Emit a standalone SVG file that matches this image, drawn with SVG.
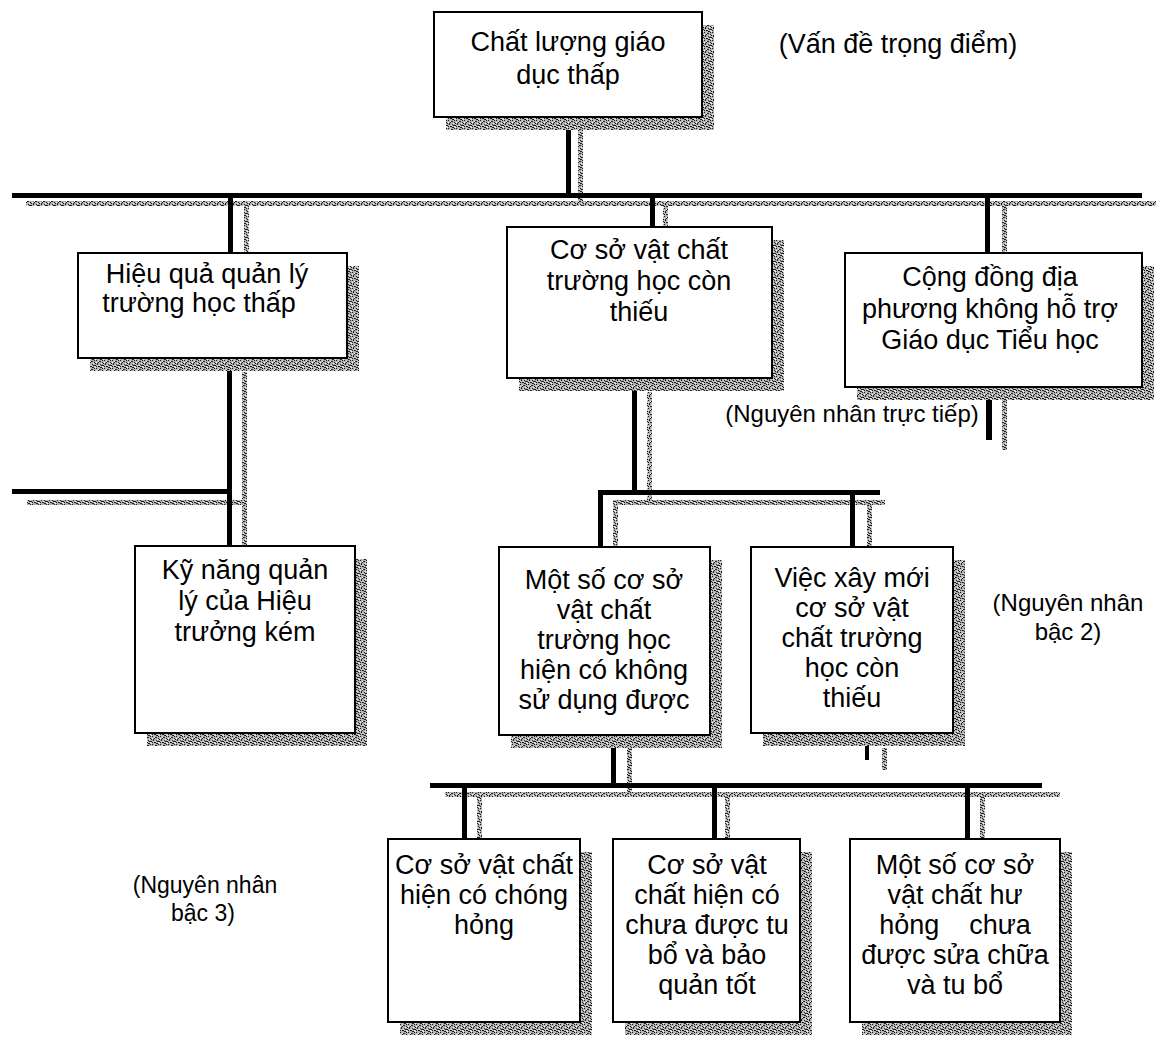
<svg xmlns="http://www.w3.org/2000/svg" width="1165" height="1040" viewBox="0 0 1165 1040">
  <style>
    .box { fill: #ffffff; stroke: #000000; stroke-width: 2; }
    .shade { fill: url(#grain); }
    .line { fill: #000000; }
    .gline { fill: url(#grain); }
    text { font-family: "Liberation Sans", Arial, sans-serif; fill: #000000; }
    .t { font-size: 27px; text-anchor: middle; }
    .note { font-size: 24px; text-anchor: middle; }
  </style>
  <defs>
    <!-- speckled grey used for the drop shadows and the shadow lines -->
    <pattern id="grain" width="8" height="8" patternUnits="userSpaceOnUse">
      <rect width="8" height="8" fill="#b4b4b4"/>
      <path d="M0 0h1v1H0zM3 1h2v1H3zM6 2h1v1H6zM1 3h1v2H1zM4 4h1v1H4zM7 5h1v1H7zM2 6h2v1H2zM5 7h1v1H5zM6 0h1v1H6zM0 6h1v1H0zM2 2h1v1H2zM5 5h2v1H5zM7 3h1v1H7zM4 7h1v1H4z" fill="#1e1e1e"/>
      <path d="M2 1h1v1H2zM5 3h1v1H5zM3 5h1v1H3zM7 7h1v1H7zM0 2h1v1H0zM6 6h1v1H6z" fill="#f2f2f2"/>
    </pattern>
  </defs>

  <rect width="1165" height="1040" fill="#ffffff"/>

  <!-- connectors: black rule with a speckled shadow rule beside it -->
  <g id="connectors">
    <!-- top stem and main bar -->
    <rect class="gline" x="578" y="130" width="5" height="72"/>
    <rect class="line" x="566" y="117" width="5" height="78"/>
    <rect class="gline" x="26" y="201" width="1130" height="5"/>
    <rect class="line" x="12" y="193" width="1130" height="5"/>
    <!-- drops to the direct causes -->
    <rect class="gline" x="244" y="205" width="5" height="48"/>
    <rect class="line" x="228" y="198" width="5" height="55"/>
    <rect class="gline" x="663" y="205" width="5" height="22"/>
    <rect class="line" x="650" y="198" width="5" height="29"/>
    <rect class="gline" x="1002" y="205" width="5" height="48"/>
    <rect class="line" x="985" y="198" width="5" height="55"/>
    <!-- stub under the community box -->
    <rect class="gline" x="1002" y="397" width="5" height="53"/>
    <rect class="line" x="986" y="387" width="6" height="53"/>
    <!-- left branch -->
    <rect class="gline" x="27" y="500" width="220" height="5"/>
    <rect class="line" x="12" y="489" width="216" height="5"/>
    <rect class="gline" x="242" y="372" width="5" height="175"/>
    <rect class="line" x="227" y="358" width="5" height="189"/>
    <!-- middle branch, second level -->
    <rect class="gline" x="647" y="392" width="5" height="108"/>
    <rect class="line" x="632" y="378" width="5" height="112"/>
    <rect class="gline" x="613" y="500" width="272" height="5"/>
    <rect class="line" x="598" y="490" width="282" height="5"/>
    <rect class="gline" x="613" y="500" width="5" height="47"/>
    <rect class="line" x="598" y="490" width="5" height="57"/>
    <rect class="gline" x="867" y="500" width="5" height="47"/>
    <rect class="line" x="850" y="490" width="5" height="57"/>
    <!-- stub under the new-build box -->
    <rect class="gline" x="882" y="748" width="5" height="22"/>
    <rect class="line" x="865" y="733" width="4" height="27"/>
    <!-- third level -->
    <rect class="gline" x="627" y="748" width="5" height="48"/>
    <rect class="line" x="611" y="735" width="5" height="50"/>
    <rect class="gline" x="445" y="792" width="615" height="5"/>
    <rect class="line" x="430" y="783" width="612" height="5"/>
    <rect class="gline" x="477" y="796" width="5" height="43"/>
    <rect class="line" x="462" y="785" width="5" height="54"/>
    <rect class="gline" x="725" y="796" width="5" height="43"/>
    <rect class="line" x="712" y="785" width="5" height="54"/>
    <rect class="gline" x="980" y="796" width="5" height="43"/>
    <rect class="line" x="965" y="785" width="5" height="54"/>
  </g>

  <g id="core-problem">
    <rect class="shade" x="446" y="25" width="268" height="105"/>
    <rect class="box" x="434" y="12" width="268" height="105"/>
    <text class="t" x="568" y="51">Chất lượng giáo</text>
    <text class="t" x="568" y="84">dục thấp</text>
  </g>

  <g id="label-core">
    <text class="note" x="898" y="53" style="font-size:27px">(Vấn đề trọng điểm)</text>
  </g>

  <g id="management">
    <rect class="shade" x="90" y="266" width="269" height="105"/>
    <rect class="box" x="78" y="253" width="269" height="105"/>
    <text class="t" x="207" y="283">Hiệu quả quản lý</text>
    <text class="t" x="199" y="312">trường học thấp</text>
  </g>

  <g id="facilities">
    <rect class="shade" x="519" y="240" width="265" height="151"/>
    <rect class="box" x="507" y="227" width="265" height="151"/>
    <text class="t" x="639" y="259">Cơ sở vật chất</text>
    <text class="t" x="639" y="290">trường học còn</text>
    <text class="t" x="639" y="321">thiếu</text>
  </g>

  <g id="community">
    <rect class="shade" x="857" y="266" width="297" height="134"/>
    <rect class="box" x="845" y="253" width="297" height="134"/>
    <text class="t" x="990" y="286">Cộng đồng địa</text>
    <text class="t" x="990" y="318">phương không hỗ trợ</text>
    <text class="t" x="990" y="349">Giáo dục Tiểu học</text>
  </g>

  <g id="label-direct">
    <text class="note" x="852" y="422">(Nguyên nhân trực tiếp)</text>
  </g>

  <g id="principal-skills">
    <rect class="shade" x="147" y="559" width="220" height="187"/>
    <rect class="box" x="135" y="546" width="220" height="187"/>
    <text class="t" x="245" y="579">Kỹ năng quản</text>
    <text class="t" x="245" y="610">lý của Hiệu</text>
    <text class="t" x="245" y="641">trưởng kém</text>
  </g>

  <g id="unusable">
    <rect class="shade" x="511" y="560" width="211" height="188"/>
    <rect class="box" x="499" y="547" width="211" height="188"/>
    <text class="t" x="604" y="589">Một số cơ sở</text>
    <text class="t" x="604" y="619">vật chất</text>
    <text class="t" x="604" y="649">trường học</text>
    <text class="t" x="604" y="679">hiện có không</text>
    <text class="t" x="604" y="709">sử dụng được</text>
  </g>

  <g id="new-build">
    <rect class="shade" x="763" y="560" width="202" height="186"/>
    <rect class="box" x="751" y="547" width="202" height="186"/>
    <text class="t" x="852" y="587">Việc xây mới</text>
    <text class="t" x="852" y="617">cơ sở vật</text>
    <text class="t" x="852" y="647">chất trường</text>
    <text class="t" x="852" y="677">học còn</text>
    <text class="t" x="852" y="707">thiếu</text>
  </g>

  <g id="label-level2">
    <text class="note" x="1068" y="611">(Nguyên nhân</text>
    <text class="note" x="1068" y="640">bậc 2)</text>
  </g>

  <g id="label-level3">
    <text class="note" x="205" y="893" style="font-size:23px">(Nguyên nhân</text>
    <text class="note" x="203" y="921" style="font-size:23px">bậc 3)</text>
  </g>

  <g id="quick-damage">
    <rect class="shade" x="400" y="852" width="192" height="183"/>
    <rect class="box" x="388" y="839" width="192" height="183"/>
    <text class="t" x="484" y="874">Cơ sở vật chất</text>
    <text class="t" x="484" y="904">hiện có chóng</text>
    <text class="t" x="484" y="934">hỏng</text>
  </g>

  <g id="no-maintenance">
    <rect class="shade" x="625" y="852" width="187" height="183"/>
    <rect class="box" x="613" y="839" width="187" height="183"/>
    <text class="t" x="707" y="874">Cơ sở vật</text>
    <text class="t" x="707" y="904">chất hiện có</text>
    <text class="t" x="707" y="934">chưa được tu</text>
    <text class="t" x="707" y="964">bổ và bảo</text>
    <text class="t" x="707" y="994">quản tốt</text>
  </g>

  <g id="no-repair">
    <rect class="shade" x="862" y="852" width="210" height="183"/>
    <rect class="box" x="850" y="839" width="210" height="183"/>
    <text class="t" x="955" y="874">Một số cơ sở</text>
    <text class="t" x="955" y="904">vật chất hư</text>
    <text class="t" x="955" y="934" xml:space="preserve">hỏng    chưa</text>
    <text class="t" x="955" y="964">được sửa chữa</text>
    <text class="t" x="955" y="994">và tu bổ</text>
  </g>
</svg>
